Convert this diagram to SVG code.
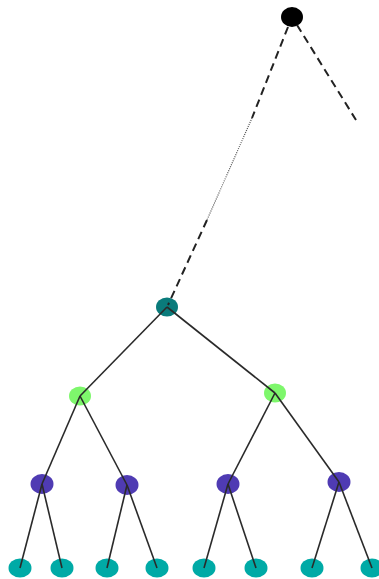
<svg xmlns="http://www.w3.org/2000/svg" width="379" height="579" viewBox="0 0 379 579">
<style>
.e{stroke:#2a2a2a;stroke-width:1.6;fill:none}
.d{stroke:#222;stroke-width:2;stroke-dasharray:8 5;fill:none}
.t{stroke:#555;stroke-width:1.2;stroke-dasharray:1 1.2;fill:none}
.root{fill:#000}
.n1{fill:#0a7b7b}
.n2{fill:#7ef76c}
.n3{fill:#4f3bb3}
.n4{fill:#00aaa6}
</style>
<rect width="379" height="579" fill="#fff"/>
<g id="nodes-bg">
<g id="root"><ellipse class="root" cx="292" cy="17" rx="11" ry="10"/></g>
<g id="n1"><ellipse class="n1" cx="167" cy="307" rx="11" ry="9.5"/></g>
<g id="g1"><ellipse class="n2" cx="80" cy="396" rx="11" ry="9.5"/></g>
<g id="g2"><ellipse class="n2" cx="275" cy="393" rx="11" ry="9.5"/></g>
<g id="p1"><ellipse class="n3" cx="42" cy="484" rx="11.5" ry="10"/></g>
<g id="p2"><ellipse class="n3" cx="127" cy="485" rx="11.5" ry="10"/></g>
<g id="p3"><ellipse class="n3" cx="228" cy="484" rx="11.5" ry="10"/></g>
<g id="p4"><ellipse class="n3" cx="339" cy="482" rx="11.5" ry="10"/></g>
<g id="l1"><ellipse class="n4" cx="20" cy="568" rx="11.5" ry="9.5"/></g>
<g id="l2"><ellipse class="n4" cx="62" cy="568" rx="11.5" ry="9.5"/></g>
<g id="l3"><ellipse class="n4" cx="107" cy="568" rx="11.5" ry="9.5"/></g>
<g id="l4"><ellipse class="n4" cx="157" cy="568" rx="11.5" ry="9.5"/></g>
<g id="l5"><ellipse class="n4" cx="204" cy="568" rx="11.5" ry="9.5"/></g>
<g id="l6"><ellipse class="n4" cx="256" cy="568" rx="11.5" ry="9.5"/></g>
<g id="l7"><ellipse class="n4" cx="312" cy="568" rx="11.5" ry="9.5"/></g>
<g id="l8"><ellipse class="n4" cx="372" cy="568" rx="11.5" ry="9.5"/></g>
</g>
<g id="connectors">
<line class="d" x1="297" y1="25" x2="356" y2="120"/>
<line class="d" x1="288" y1="27" x2="252" y2="118"/>
<line class="t" x1="252" y1="118" x2="207" y2="220"/>
<line class="d" x1="207" y1="220" x2="168" y2="305"/>
<line class="e" x1="167" y1="307" x2="80" y2="396"/>
<line class="e" x1="167" y1="307" x2="275" y2="393"/>
<line class="e" x1="80" y1="396" x2="42" y2="484"/>
<line class="e" x1="80" y1="396" x2="127" y2="485"/>
<line class="e" x1="275" y1="393" x2="228" y2="484"/>
<line class="e" x1="275" y1="393" x2="339" y2="482"/>
<line class="e" x1="42" y1="484" x2="20" y2="568"/>
<line class="e" x1="42" y1="484" x2="62" y2="568"/>
<line class="e" x1="127" y1="485" x2="107" y2="568"/>
<line class="e" x1="127" y1="485" x2="157" y2="568"/>
<line class="e" x1="228" y1="484" x2="204" y2="568"/>
<line class="e" x1="228" y1="484" x2="256" y2="568"/>
<line class="e" x1="339" y1="482" x2="312" y2="568"/>
<line class="e" x1="339" y1="482" x2="372" y2="568"/>
</g>
</svg>
